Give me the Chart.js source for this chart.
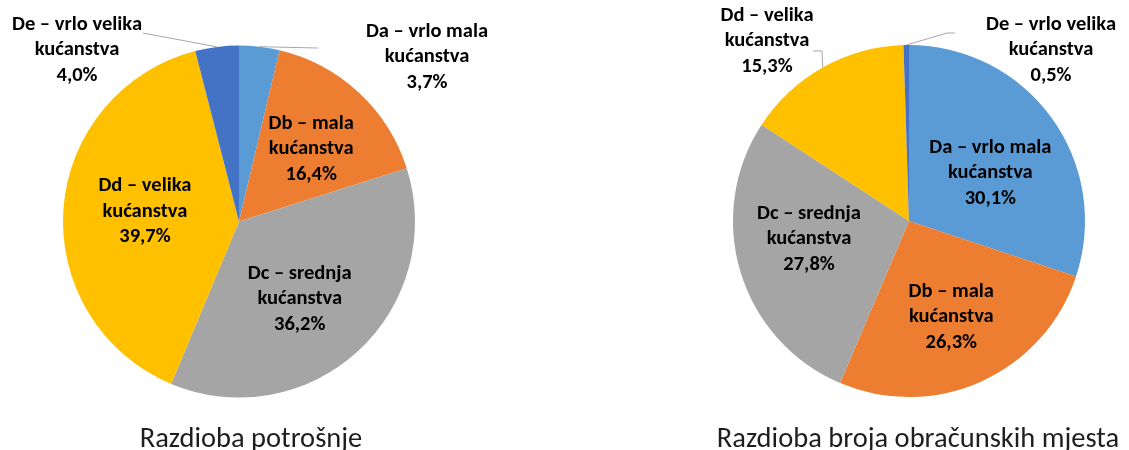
<!DOCTYPE html>
<html>
<head>
<meta charset="utf-8">
<script src="https://cdn.jsdelivr.net/npm/chart.js@4.4.1/dist/chart.umd.min.js"></script>
<style>
    html, body { margin: 0; padding: 0; background: #ffffff; width: 1129px; height: 450px; overflow: hidden; }
    .okvir { position: absolute; top: 0; height: 450px; }
</style>
</head>
<body>
<div class="okvir" style="left:0;width:560px;"><canvas id="graf-potrosnja" width="560" height="450"></canvas></div>
<div class="okvir" style="left:560px;width:569px;"><canvas id="graf-mjesta" width="569" height="450"></canvas></div>

<script>
// Kategorije kućanstava (dva retka po oznaci)
var kategorije = [
    ['Da – vrlo mala', 'kućanstva'],
    ['Db – mala', 'kućanstva'],
    ['Dc – srednja', 'kućanstva'],
    ['Dd – velika', 'kućanstva'],
    ['De – vrlo velika', 'kućanstva']
];

// Udjeli u %
var potrosnja = [3.7, 16.4, 36.2, 39.7, 4.0];
var obracunskaMjesta = [30.1, 26.3, 27.8, 15.3, 0.5];

var naslovi = ['Razdioba potrošnje', 'Razdioba broja obračunskih mjesta'];

var boje = ['#5B9BD5', '#ED7D31', '#A5A5A5', '#FFC000', '#4472C4'];

var pismo = 'Carlito, Lato, "Open Sans", sans-serif';

function formatPostotak(v) {
    return v.toFixed(1).replace('.', ',') + '%';
}

/**
 * Plugin koji crta oznake (unutra ili vani s linijom) i naslov ispod grafa
 */
function napraviOznake(smjestaj, naslov, naslovX) {
    return {
        id: 'oznake',
        afterDatasetsDraw: function(chart) {
            var ctx = chart.ctx;
            var meta = chart.getDatasetMeta(0);
            var data = chart.data.datasets[0].data;

            ctx.save();
            meta.data.forEach(function(arc, i) {
                var p = arc.getProps(['x', 'y', 'startAngle', 'endAngle', 'outerRadius'], true);
                var mid = (p.startAngle + p.endAngle) / 2;
                var s = smjestaj[i];
                var lx, ly;

                if (s.vani) {
                    lx = p.x + s.dx;
                    ly = p.y + s.dy;
                    // linija od ruba isječka do oznake
                    ctx.beginPath();
                    ctx.moveTo(p.x + Math.cos(mid) * p.outerRadius, p.y + Math.sin(mid) * p.outerRadius);
                    s.linija.forEach(function(t) {
                        ctx.lineTo(p.x + t[0], p.y + t[1]);
                    });
                    ctx.strokeStyle = '#A6A6A6';
                    ctx.lineWidth = 1;
                    ctx.stroke();
                } else {
                    lx = p.x + Math.cos(mid) * p.outerRadius * 0.57 + s.dx;
                    ly = p.y + Math.sin(mid) * p.outerRadius * 0.57 + s.dy;
                }

                var redovi = kategorije[i].concat([formatPostotak(data[i])]);
                ctx.font = 'bold 20.5px ' + pismo;
                ctx.fillStyle = '#000000';
                ctx.textAlign = 'center';
                ctx.textBaseline = 'middle';
                redovi.forEach(function(t, k) {
                    ctx.fillText(t, lx, ly + (k - 1) * 25.5);
                });
            });

            // naslov ispod grafa
            ctx.font = '28.5px ' + pismo;
            ctx.fillStyle = '#1e1e1e';
            ctx.textAlign = 'center';
            ctx.textBaseline = 'alphabetic';
            ctx.fillText(naslov, naslovX, 447);
            ctx.restore();
        }
    };
}

function initPita(canvasId, podaci, padding, smjestaj, naslov, naslovX) {
    var canvas = document.getElementById(canvasId);
    if (!canvas) return;

    new Chart(canvas.getContext('2d'), {
        type: 'pie',
        data: {
            labels: kategorije.map(function(k) { return k.join(' '); }),
            datasets: [{
                data: podaci,
                backgroundColor: boje,
                borderWidth: 0
            }]
        },
        options: {
            responsive: false,
            animation: false,
            events: [],
            rotation: 0,
            layout: { padding: padding },
            plugins: {
                legend: { display: false },
                tooltip: { enabled: false }
            }
        },
        plugins: [napraviOznake(smjestaj, naslov, naslovX)]
    });
}

initPita('graf-potrosnja', potrosnja,
    { left: 63, right: 145, top: 45.5, bottom: 52.5 },
    [
        { vani: true, dx: 188, dy: -164.5, linija: [[79, -173.5]] },
        { dx: 4, dy: 1 },
        { dx: -7, dy: 3.5 },
        { dx: 6, dy: -2.5 },
        { vani: true, dx: -162, dy: -171.5, linija: [[-96, -188.5]] }
    ],
    naslovi[0], 251);

initPita('graf-mjesta', obracunskaMjesta,
    { left: 173, right: 44, top: 45, bottom: 53 },
    [
        { dx: 0, dy: 11 },
        { dx: 1, dy: 4.5 },
        { dx: -4, dy: -11 },
        { vani: true, dx: -142, dy: -180, linija: [[-87, -170], [-96, -170]] },
        { vani: true, dx: 142, dy: -171, linija: [[38, -188], [46, -188]] }
    ],
    naslovi[1], 358);
</script>
</body>
</html>
